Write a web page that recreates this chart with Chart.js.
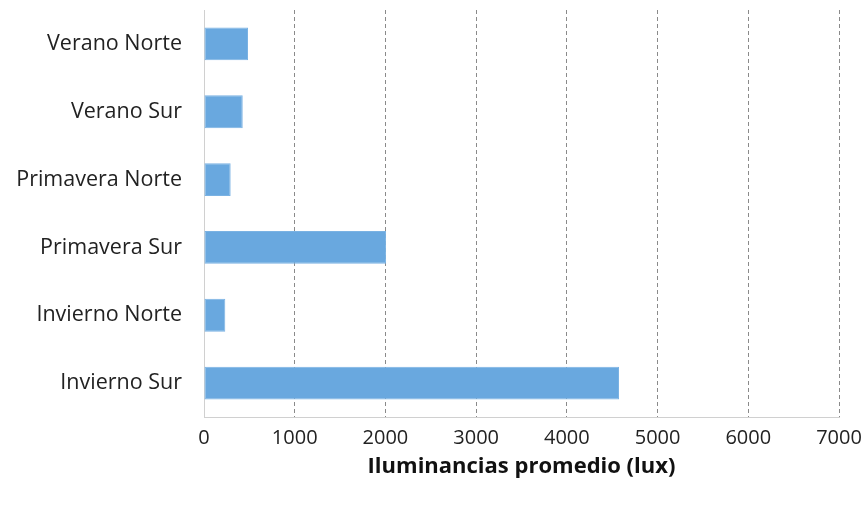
<!DOCTYPE html>
<html>
<head>
<meta charset="utf-8">
<script src="https://cdn.jsdelivr.net/npm/chart.js@4/dist/chart.umd.min.js"></script>
<style>
  html, body { margin: 0; padding: 0; background: #ffffff; }
  #wrap { width: 865px; height: 505px; position: relative; }
</style>
</head>
<body>
<div id="wrap"><canvas id="c" width="865" height="505"></canvas></div>
<script>
const categories = ["Verano Norte", "Verano Sur", "Primavera Norte", "Primavera Sur", "Invierno Norte", "Invierno Sur"];
const illuminance = [485, 427, 294, 2007, 235, 4575];
const xTicks = [0, 1000, 2000, 3000, 4000, 5000, 6000, 7000];
const xTitle = "Iluminancias promedio (lux)";

const FONT = "'Open Sans', Lato, sans-serif";

new Chart(document.getElementById('c'), {
  type: 'bar',
  data: {
    labels: categories,
    datasets: [{
      data: illuminance,
      backgroundColor: function(ctx) {
        const chart = ctx.chart;
        const el = ctx.element;
        if (!el || el.y === undefined || isNaN(el.y) || el.height === undefined) return '#69a8df';
        const top = el.y - el.height / 2, bot = el.y + el.height / 2;
        const g = chart.ctx.createLinearGradient(0, top, 0, bot);
        g.addColorStop(0, '#7fb5e4');
        g.addColorStop(1, '#5398d6');
        return g;
      },
      borderColor: '#7ab2e3',
      borderWidth: 1,
      borderSkipped: false,
      barPercentage: 0.485,
      categoryPercentage: 1.0
    }]
  },
  options: {
    indexAxis: 'y',
    responsive: false,
    animation: false,
    layout: { padding: { top: 10, right: 26, bottom: 22, left: 0 } },
    plugins: { legend: { display: false }, tooltip: { enabled: false } },
    scales: {
      x: {
        min: 0, max: 7000,
        afterBuildTicks: (scale) => { scale.ticks = xTicks.map(v => ({ value: v })); },
        afterFit: (scale) => {
          scale.height = 66;
          scale.paddingLeft = 0; scale.paddingRight = 0;
        },
        grid: {
          color: '#8a8a8a',
          lineWidth: 1,
          drawTicks: false
        },
        border: { display: true, color: '#d0d0d0', width: 1, dash: [4, 3] },
        ticks: {
          color: '#222222',
          font: { family: FONT, size: 20 },
          padding: 9,
          maxRotation: 0,
          callback: (v) => String(v)
        },
        title: {
          display: true,
          text: xTitle,
          color: '#111111',
          font: { family: FONT, size: 22, weight: 'bold' },
          padding: { top: 0, bottom: 3 }
        }
      },
      y: {
        afterFit: (scale) => {
          scale.width = 204;
          scale.paddingTop = 0; scale.paddingBottom = 0;
        },
        grid: { display: false, drawTicks: false },
        border: { display: true, color: '#d0d0d0', width: 1 },
        ticks: {
          color: '#222222',
          font: { family: FONT, size: 21.5 },
          padding: 22
        }
      }
    }
  }
});
</script>
</body>
</html>
